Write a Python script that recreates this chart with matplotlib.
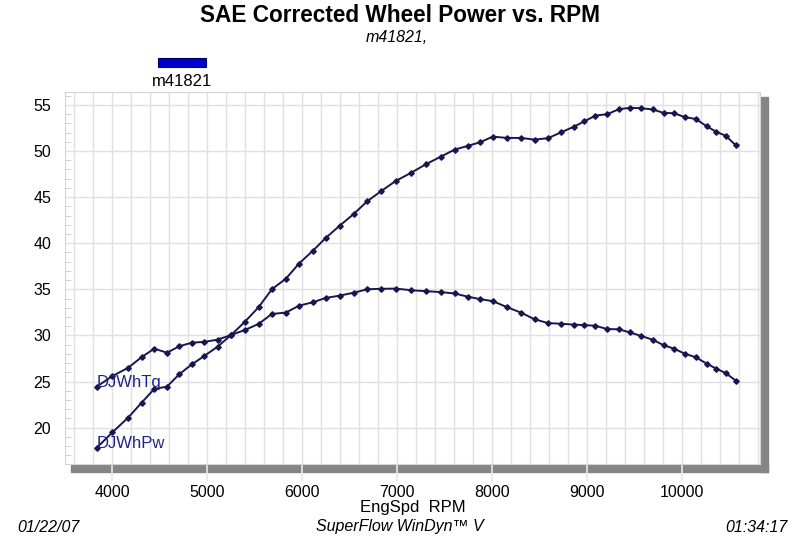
import matplotlib
matplotlib.use("Agg")
import matplotlib.pyplot as plt
from matplotlib.patches import Rectangle
from matplotlib.ticker import MultipleLocator

plt.rcParams['font.family'] = ['Liberation Sans', 'DejaVu Sans']

# Data
rpm = [3835, 4000, 4166, 4306, 4440, 4574, 4704, 4838, 4968, 5109,
       5250, 5396, 5539, 5679, 5827, 5964, 6112, 6246, 6394, 6542,
       6684, 6832, 6985, 7149, 7302, 7460, 7603, 7740, 7872, 8006,
       8157, 8302, 8445, 8587, 8728, 8858, 8971, 9087, 9212, 9333,
       9451, 9562, 9689, 9805, 9914, 10032, 10143, 10257, 10359, 10459,
       10565]
torque = [24.45, 25.6, 26.5, 27.64, 28.57, 28.13, 28.83, 29.22, 29.3, 29.55,
          30.05, 30.6, 31.25, 32.33, 32.48, 33.23, 33.6, 34.07, 34.32, 34.64,
          35.01, 35.06, 35.08, 34.9, 34.8, 34.7, 34.55, 34.21, 33.94, 33.72,
          33.06, 32.48, 31.76, 31.34, 31.27, 31.18, 31.12, 31.05, 30.69, 30.67,
          30.32, 29.97, 29.54, 28.94, 28.57, 28.0, 27.64, 26.95, 26.4, 25.92,
          25.1]
power = [17.83, 19.5, 21.1, 22.7, 24.2, 24.45, 25.8, 26.88, 27.78, 28.8,
         30.05, 31.5, 33.06, 35.01, 36.16, 37.79, 39.2, 40.57, 41.91, 43.18,
         44.56, 45.67, 46.76, 47.66, 48.57, 49.4, 50.15, 50.55, 50.95, 51.56,
         51.42, 51.42, 51.24, 51.39, 52.04, 52.63, 53.22, 53.84, 54.0, 54.53,
         54.69, 54.64, 54.51, 54.13, 54.1, 53.66, 53.48, 52.7, 52.08, 51.66,
         50.62]
x_ticks = [4000, 5000, 6000, 7000, 8000, 9000, 10000]
y_ticks = [20, 25, 30, 35, 40, 45, 50, 55]

W, H = 800, 540
fig = plt.figure(figsize=(W / 100, H / 100), dpi=100)
ax = fig.add_axes([65 / W, 1 - 464 / H, 695 / W, 372 / H])

# drop shadow under / right of the plot box (kept inside the axes so the
# tick marks get drawn on top of it)
shadow = '#858585'
for rect in [(71, 465, 697, 7), (761, 97, 7, 375)]:
    x0, y0, w, h = rect
    ax.add_patch(Rectangle((x0 / W, 1 - (y0 + h) / H), w / W, h / H,
                           transform=fig.transFigure, color=shadow,
                           clip_on=False, zorder=0.4))

line_col = '#17174f'
ax.plot(rpm, torque, color=line_col, lw=1.4, marker='D', ms=2.8, zorder=3)
ax.plot(rpm, power, color=line_col, lw=1.4, marker='D', ms=2.8, zorder=3)

lbl_col = '#22228a'
ax.text(rpm[0], torque[0], 'DJWhTq', color=lbl_col, fontsize=12,
        ha='left', va='baseline', zorder=4)
ax.text(rpm[0], power[0], 'DJWhPw', color=lbl_col, fontsize=12,
        ha='left', va='baseline', zorder=4)

ax.set_xlim(3500, 10820)
ax.set_ylim(16.06, 56.4)
ax.set_xticks(x_ticks)
ax.set_yticks(y_ticks)
ax.xaxis.set_minor_locator(MultipleLocator(200))
ax.yaxis.set_minor_locator(MultipleLocator(1))

grid_col = '#e0e0e0'
ax.grid(True, which='major', color=grid_col, lw=1)
ax.grid(True, which='minor', axis='x', color=grid_col, lw=1)
ax.set_axisbelow(True)

# major x ticks run down through the shadow as pale lines
ax.tick_params(axis='x', which='major', direction='out', length=12, width=1.2,
               color='#e8e8e8', labelsize=11.5, pad=3)
ax.tick_params(axis='x', which='minor', length=0)
ax.tick_params(axis='y', which='major', length=0, labelsize=11.5, pad=10)
ax.tick_params(axis='y', which='minor', direction='in', length=4,
               color='#c8c8c8')
for sp in ax.spines.values():
    sp.set_color('#d4d4d4')

ax.set_xlabel('EngSpd  RPM', fontsize=12, labelpad=0)

# titles and legend
fig.text(0.5, 1 - 15 / H, 'SAE Corrected Wheel Power vs. RPM', ha='center',
         va='center', fontsize=16.3, fontweight='bold')
fig.text(397 / W, 1 - 38 / H, 'm41821,', ha='center', va='center',
         fontsize=11.5, style='italic')
fig.patches.append(Rectangle((158 / W, 1 - 67 / H), 48 / W, 9 / H,
                             transform=fig.transFigure, facecolor='#0000cc',
                             edgecolor='#000066', lw=0.8))
fig.text(182 / W, 1 - 82 / H, 'm41821', ha='center', va='center', fontsize=12)

# footer
fig.text(17 / W, 1 - 527 / H, '01/22/07', ha='left', va='center',
         fontsize=11.5, style='italic')
fig.text(400 / W, 1 - 527 / H, 'SuperFlow WinDyn\u2122 V', ha='center',
         va='center', fontsize=11.5, style='italic')
fig.text(788 / W, 1 - 527 / H, '01:34:17', ha='right', va='center',
         fontsize=11.5, style='italic')

fig.savefig('out.png', dpi=100)
